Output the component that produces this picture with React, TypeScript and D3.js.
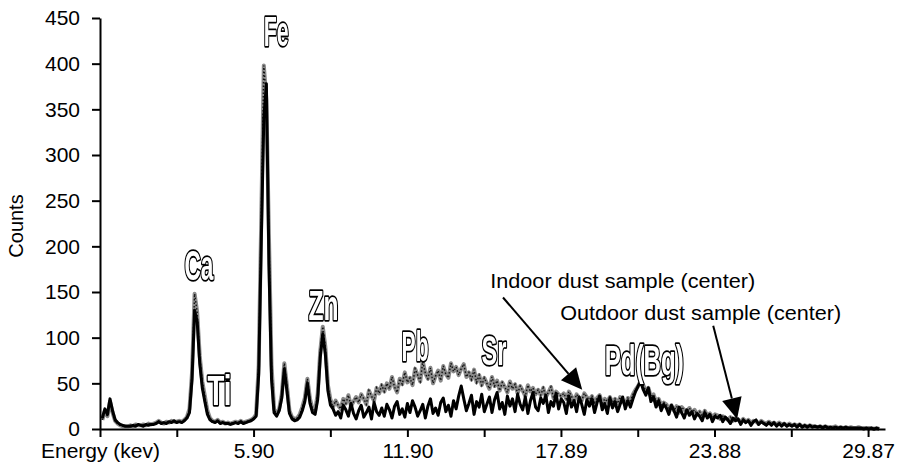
import * as d3 from 'd3';
import { useEffect, useRef } from 'react';

// spectrum channels are 0.1 keV wide, first channel at 0 keV
const CHANNEL_KEV = 0.1;

// indoor dust sample (center), one row per keV
const indoorCounts = [
  10, 20, 14, 30, 18, 9, 6, 4, 3, 3,
  3, 4, 3, 5, 4, 4, 5, 4, 6, 5,
  6, 7, 9, 7, 6, 8, 7, 9, 8, 8,
  9, 8, 10, 13, 22, 62, 148, 128, 80, 52,
  36, 20, 12, 9, 8, 10, 7, 8, 6, 7,
  6, 7, 8, 7, 9, 7, 8, 9, 10, 12,
  16, 70, 230, 398, 360, 210, 70, 22, 16, 22,
  38, 72, 48, 20, 13, 11, 12, 16, 24, 34,
  55, 33, 22, 20, 38, 85, 112, 90, 48, 32,
  24, 31, 26, 22, 33, 28, 37, 25, 30, 35,
  29, 38, 33, 27, 42, 36, 31, 45, 39, 48,
  41, 50, 44, 57, 46, 40, 55, 49, 62, 51,
  56, 48, 66, 59, 52, 74, 61, 55, 67, 50,
  58, 64, 53, 69, 60, 56, 72, 63, 68, 59,
  66, 71, 57, 62, 54, 65, 51, 59, 48, 56,
  50, 44, 57, 47, 53, 42, 51, 46, 40, 52,
  44, 49, 39, 47, 42, 36, 48, 41, 45, 38,
  43, 37, 45, 35, 40, 46, 34, 41, 38, 36,
  39, 33, 41, 36, 30, 38, 34, 31, 39, 35,
  32, 36, 29, 34, 37, 28, 33, 30, 35, 29,
  33, 28, 35, 30, 27, 34, 31, 38, 43, 47,
  53, 48, 42, 45, 35, 38, 30, 33, 26, 29,
  27, 22, 26, 20, 25, 18, 24, 21, 19, 23,
  18, 21, 16, 19, 14, 20, 15, 17, 13, 16,
  15, 11, 14, 12, 10, 13, 9, 12, 10, 8,
  11, 8, 10, 7, 9, 8, 6, 9, 7, 6,
  8, 6, 7, 5, 7, 5, 6, 4, 6, 4,
  5, 4, 5, 3, 4, 3, 4, 3, 3, 2,
  3, 2, 3, 2, 2, 2, 3, 1, 2, 1,
  2, 1, 2, 1, 1, 2, 1, 1, 1, 1,
  1, 0, 1, 0,
];

// outdoor dust sample (center)
const outdoorCounts = [
  12, 22, 16, 33, 20, 10, 7, 5, 4, 3,
  3, 3, 4, 3, 5, 4, 3, 5, 4, 5,
  5, 6, 8, 6, 7, 6, 8, 7, 9, 7,
  8, 7, 9, 12, 18, 55, 130, 118, 72, 45,
  30, 16, 10, 8, 7, 9, 6, 7, 6, 6,
  5, 6, 7, 6, 8, 6, 7, 8, 9, 11,
  14, 60, 205, 340, 378, 180, 55, 18, 14, 20,
  34, 66, 42, 17, 11, 9, 10, 13, 20, 30,
  50, 28, 18, 16, 32, 78, 104, 82, 42, 26,
  22, 15, 19, 12, 26, 21, 14, 28, 17, 11,
  20, 26, 13, 18, 24, 11, 29, 19, 15, 23,
  14, 27, 21, 12, 25, 30, 16, 22, 13, 28,
  18, 31, 24, 14, 20, 27, 12, 25, 33, 17,
  23, 15, 29, 34, 19, 26, 14, 31, 22, 36,
  47, 33, 20, 28, 37, 16, 30, 24, 38, 19,
  27, 35, 18, 32, 40, 22, 29, 16, 36, 25,
  33, 19, 38, 27, 21, 35, 17, 31, 40, 24,
  20, 34, 28, 37, 18, 30, 25, 39, 22, 33,
  29, 17, 36, 24, 31, 19, 35, 27, 16, 32,
  25, 33, 18, 29, 36, 21, 28, 17, 34, 23,
  30, 19, 27, 35, 22, 31, 24, 33, 41, 47,
  52, 43, 37, 45, 30, 35, 24, 31, 20, 27,
  23, 16, 26, 20, 13, 24, 18, 12, 21, 15,
  19, 11, 17, 14, 9, 18, 12, 16, 8, 14,
  12, 15, 8, 13, 10, 6, 12, 9, 11, 5,
  10, 7, 9, 4, 8, 10, 5, 8, 6, 4,
  7, 4, 7, 3, 6, 3, 6, 3, 5, 3,
  5, 2, 5, 2, 4, 2, 4, 2, 3, 2,
  3, 1, 3, 1, 2, 1, 2, 1, 2, 1,
  2, 1, 1, 1, 1, 1, 1, 0, 1, 0,
  1, 0, 1, 0,
];

const yTicks = [0, 50, 100, 150, 200, 250, 300, 350, 400, 450];
const xTickValues = [-0.09, 2.905, 5.9, 8.895, 11.9, 14.895, 17.89, 20.885, 23.88, 26.875, 29.87];
const xTickLabels = ['Energy (kev)', '', '5.90', '', '11.90', '', '17.89', '', '23.88', '', '29.87'];

// element names, placed at (keV, counts) of their baseline centre
const elementNames = ['Fe', 'Ca', 'Ti', 'Zn', 'Pb', 'Sr', 'Pd(Bg)'];
const elementKev = [6.78, 3.77, 4.57, 8.63, 12.2, 15.28, 21.14];
const elementCounts = [419, 163, 26, 119, 75, 70, 59];
const elementWidths = [25, 29, 24, 30, 27, 25, 79];

const sampleNotes = ['Indoor dust sample (center)', 'Outdoor dust sample (center)'];
const noteKev = [15.13, 17.86];
const noteCounts = [154, 119];
const noteWidths = [265, 281];
const arrowFrom = [[15.63, 144], [23.83, 113]];
const arrowTo = [[18.72, 43], [24.76, 11]];

const FONT = "'Liberation Sans', Arial, Helvetica, sans-serif";
const LABEL_FONT = "'Liberation Sans Narrow', 'Liberation Sans', Arial, sans-serif";

export default function App() {
  const gx = useRef<SVGGElement>(null);
  const gy = useRef<SVGGElement>(null);

  const x = d3.scaleLinear().domain([-0.09, 30.53]).range([100, 885]);
  const y = d3.scaleLinear().domain([0, 450]).range([429, 18]);

  const line = d3.line<number>()
    .x((_, i) => x(i * CHANNEL_KEV))
    .y(d => y(d));

  useEffect(() => {
    const ax = d3.select(gx.current!);
    ax.selectAll('*').remove();
    ax.call(
      d3.axisBottom(x)
        .tickValues(xTickValues)
        .tickFormat((_, i) => xTickLabels[i])
        .tickSize(8)
        .tickSizeOuter(0)
        .tickPadding(6)
    );
    ax.attr('font-size', 21).attr('font-family', FONT);
    ax.select('.domain').attr('stroke-width', 2);
    ax.selectAll('.tick line').attr('stroke-width', 2);

    const ay = d3.select(gy.current!);
    ay.selectAll('*').remove();
    ay.call(
      d3.axisLeft(y)
        .tickValues(yTicks)
        .tickSize(8)
        .tickSizeOuter(0)
        .tickPadding(12)
    );
    ay.attr('font-size', 21).attr('font-family', FONT);
    ay.select('.domain').attr('stroke-width', 2);
    ay.selectAll('.tick line').attr('stroke-width', 2);
  }, []);

  const arrows = arrowFrom.map((f, i) => {
    const bx = x(f[0]), by = y(f[1]);
    const tx = x(arrowTo[i][0]), ty = y(arrowTo[i][1]);
    const len = Math.hypot(tx - bx, ty - by);
    const ux = (tx - bx) / len, uy = (ty - by) / len;
    const hl = 21, hw = 10;
    const cx = tx - ux * hl, cy = ty - uy * hl;
    const head = [
      [tx, ty],
      [cx - uy * hw, cy + ux * hw],
      [cx + uy * hw, cy - ux * hw],
    ];
    return { bx, by, cx, cy, head };
  });

  const indoorPath = line(indoorCounts) ?? '';
  const outdoorPath = line(outdoorCounts) ?? '';

  return (
    <svg width={900} height={468} style={{ position: 'absolute', left: 0, top: 0, background: '#fff' }}>
      <defs>
        <filter id="gray" x="-10%" y="-10%" width="120%" height="120%">
          <feColorMatrix type="saturate" values="0" />
        </filter>
      </defs>

      <path d={indoorPath} fill="none" stroke="#8a8a8a" strokeWidth={4} strokeLinejoin="round" />
      <path d={indoorPath} fill="none" stroke="#111" strokeWidth={1.4} strokeDasharray="1.5,2" />
      <path d={outdoorPath} fill="none" stroke="#000" strokeWidth={3} strokeLinejoin="round" />

      <g ref={gx} transform="translate(0,429)" />
      <g ref={gy} transform="translate(100,0)" />

      <text
        transform="translate(18,226) rotate(-90)"
        textAnchor="middle"
        dominantBaseline="middle"
        fontFamily={FONT}
        fontSize={20}
      >
        Counts
      </text>

      <g filter="url(#gray)" fontFamily={LABEL_FONT} fontWeight="bold" fontSize={42} textAnchor="middle">
        {elementNames.map((t, i) => (
          <g key={t}>
            <text
              x={x(elementKev[i])}
              y={y(elementCounts[i])}
              fill="#000"
              stroke="#000"
              strokeWidth={3.6}
              strokeLinejoin="round"
              textLength={elementWidths[i]}
              lengthAdjust="spacingAndGlyphs"
            >
              {t}
            </text>
            <text
              x={x(elementKev[i])}
              y={y(elementCounts[i])}
              fill="#fff"
              textLength={elementWidths[i]}
              lengthAdjust="spacingAndGlyphs"
            >
              {t}
            </text>
          </g>
        ))}
      </g>

      {sampleNotes.map((t, i) => (
        <text
          key={t}
          x={x(noteKev[i])}
          y={y(noteCounts[i])}
          fontFamily={FONT}
          fontSize={21}
          textLength={noteWidths[i]}
          lengthAdjust="spacingAndGlyphs"
        >
          {t}
        </text>
      ))}

      {arrows.map((a, i) => (
        <g key={i}>
          <line x1={a.bx} y1={a.by} x2={a.cx} y2={a.cy} stroke="#000" strokeWidth={2} />
          <polygon points={a.head.map(p => p.join(',')).join(' ')} fill="#000" />
        </g>
      ))}
    </svg>
  );
}
